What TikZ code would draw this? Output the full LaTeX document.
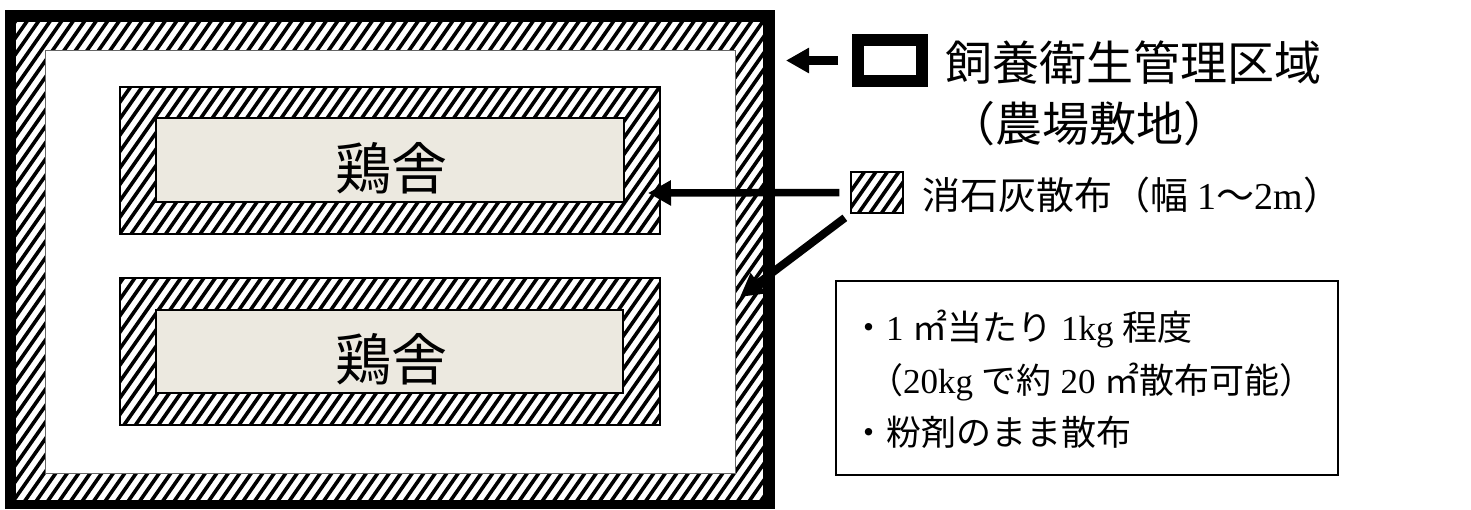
\documentclass[tikz,border=0pt]{standalone}
\usepackage{fontspec}
\setmainfont{Liberation Serif}
\newfontfamily\cjk{Noto Sans CJK JP}
\usetikzlibrary{arrows.meta}
\definecolor{coopbeige}{RGB}{236,233,224}
\newcommand\hatchlines{%
  \foreach \k in {-34,...,83}{\draw[line width=3.6pt] ({\k*11.5},520) -- ++(380,-543);}}
\tikzset{
  limehatch/.style={fill=white,path picture={\hatchlines}},
  bigarrow/.style={line width=#1,-{Triangle[length=23pt,width=24pt]}},
  coopfont/.style={font=\cjk\fontsize{56}{60}\selectfont},
  legfont/.style={font=\fontsize{47}{52}\selectfont},
  leg2font/.style={font=\fontsize{38}{44}\selectfont},
  infofont/.style={font=\fontsize{35}{42}\selectfont},
  txt/.style={inner sep=0pt,anchor=base west}
}
\begin{document}
\begin{tikzpicture}[x=1pt,y=-1pt]
\useasboundingbox (0,0) rectangle (1471,509);
% farm area: black frame, hatched band, white interior
\fill[black] (5,10) rectangle (775,509);
\path[limehatch] (16,22) rectangle (763,500);
\draw[fill=white,draw=black!60,line width=1pt] (45,50) rectangle (735,473);
% coop 1
\path[limehatch] (120,87) rectangle (660,234);
\draw[line width=1.2pt] (120,87) rectangle (660,234);
\draw[fill=coopbeige,line width=1.2pt] (156,118) rectangle (624,202);
\node[coopfont,inner sep=0pt,anchor=base] (coop1) at (391,189) {鶏舎};
% coop 2
\path[limehatch] (120,278) rectangle (660,425);
\draw[line width=1.2pt] (120,278) rectangle (660,425);
\draw[fill=coopbeige,line width=1.2pt] (156,310) rectangle (623,393);
\node[coopfont,inner sep=0pt,anchor=base] (coop2) at (391,380) {鶏舎};
% legend 1
\node[draw,line width=12pt,minimum width=64pt,minimum height=41pt,inner sep=0pt] (leg1) at (890,60.5) {};
\coordinate (t1) at (786,60.5);
\draw[bigarrow=9pt,shorten <=14pt] (leg1.west) -- (t1);
\node[txt,legfont] (leg1t) at (945,80) {\cjk 飼養衛生管理区域};
\node[txt,legfont] (leg1u) at (948,141) {\cjk （農場敷地）};
% legend 2
\node[draw,limehatch,line width=1.2pt,minimum width=52pt,minimum height=41pt,inner sep=0pt] (leg2) at (877,192.5) {};
\coordinate (t2) at (648,193);
\coordinate (t3) at (740,297);
\draw[bigarrow=7.5pt,shorten <=11pt] (leg2.west) -- (t2);
\draw[bigarrow=8pt,shorten <=7pt] (leg2.south west) -- (t3);
\node[txt,leg2font] (leg2t) at (922,209) {{\cjk 消石灰散布（幅} 1{\cjk 〜}2m{\cjk ）}};
% info box
\node[draw,line width=1.5pt,minimum width=502pt,minimum height=194pt,inner sep=0pt] (info) at (1087,378) {};
\node[txt,infofont] (i1) at (851,340) {{\cjk ・}1 {\cjk ㎡当たり} 1kg {\cjk 程度}};
\node[txt,infofont] (i2) at (868,393) {{\cjk （}20kg {\cjk で約} 20 {\cjk ㎡散布可能）}};
\node[txt,infofont] (i3) at (851,445) {\cjk ・粉剤のまま散布};
\end{tikzpicture}
\end{document}
